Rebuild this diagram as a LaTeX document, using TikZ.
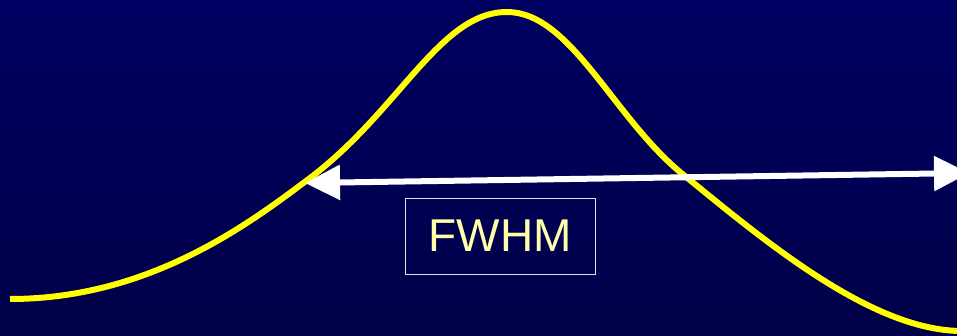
\documentclass[tikz,border=0pt]{standalone}
\usepackage{fontspec}
\setmainfont{Liberation Sans}
\usepackage{xcolor}
\usetikzlibrary{positioning, arrows.meta, calc}
\definecolor{navytop}{RGB}{0,0,98}
\definecolor{navybot}{RGB}{0,0,72}
\definecolor{curveyellow}{RGB}{255,255,0}
\definecolor{labelyellow}{RGB}{255,255,170}
\definecolor{boxline}{RGB}{225,225,225}

\begin{document}
\begin{tikzpicture}[x=1pt, y=-1pt, every node/.style={font=\fontsize{46}{50}\selectfont}]
      \tikzstyle{labelbox}=[rectangle, draw=boxline, line width=0.9pt, text=labelyellow, minimum width=190pt, minimum height=76pt, inner sep=0pt]
      \tikzstyle{widtharrow}=[white, line width=6pt, {Triangle[length=35pt,width=34pt]}-{Triangle[length=35pt,width=34pt]}]
      \shade[top color=navytop, bottom color=navybot] (0,0) rectangle (957,336);
      \useasboundingbox (0,0) rectangle (957,336);
      \clip (0,0) rectangle (957,336);
      % the peak
      \draw[curveyellow, line width=6pt] (10,299) .. controls (150,299) and (250,223) .. (310,178)
        .. controls (400,110) and (440,12) .. (507,12)
        .. controls (570,12) and (612,115) .. (680,172)
        .. controls (760,237) and (870,331) .. (962,331);
      % full width at half maximum
      \coordinate (lefttip) at (305,183);
      \coordinate (righttip) at (969,173);
      \draw[widtharrow] (lefttip) -- (righttip);
      \node[labelbox] (fwhm) at (500,236) {FWHM};
    \end{tikzpicture}
\end{document}
